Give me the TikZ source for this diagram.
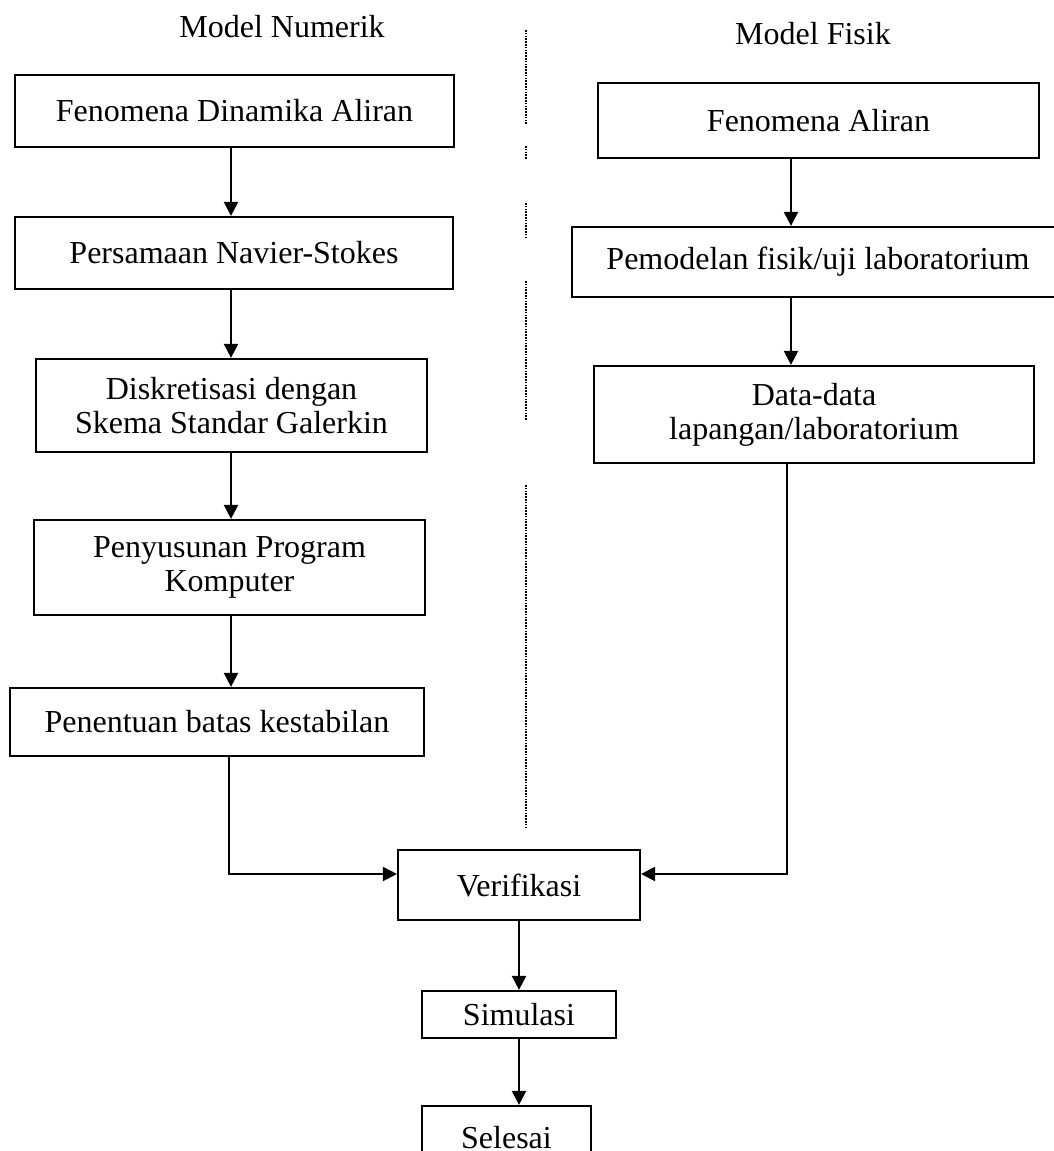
\documentclass[tikz,border=0pt]{standalone}
\usepackage{fontspec}
\setmainfont{Liberation Serif}
\usetikzlibrary{arrows.meta}
\tikzset{
  box/.style={draw, line width=1.1pt, inner sep=2pt, align=center,
    font=\fontsize{16pt}{17pt}\selectfont},
  ttl/.style={anchor=base, inner sep=0pt, font=\fontsize{16pt}{17pt}\selectfont},
  arr/.style={line width=1.1pt, -{Triangle[length=7pt,width=7pt]}},
  sep/.style={line width=0.8pt, dash pattern=on 0.8pt off 0.6pt},
}
\begin{document}
\begin{tikzpicture}[x=0.5pt, y=-0.5pt]
\useasboundingbox (0,0) rectangle (1054,1151);
\clip (0,0) rectangle (1054,1151);

% titles
\node[ttl] (tn) at (282,38) {Model Numerik};
\node[ttl] (tf) at (813,44) {Model Fisik};

% separator (broken dotted line)
\coordinate (s1a) at (526,30);  \coordinate (s1b) at (526,125);
\coordinate (s2a) at (526,146); \coordinate (s2b) at (526,159);
\coordinate (s3a) at (526,203); \coordinate (s3b) at (526,237);
\coordinate (s4a) at (526,281); \coordinate (s4b) at (526,420);
\coordinate (s5a) at (526,485); \coordinate (s5b) at (526,828);
\draw[sep] (s1a) -- (s1b);
\draw[sep] (s2a) -- (s2b);
\draw[sep] (s3a) -- (s3b);
\draw[sep] (s4a) -- (s4b);
\draw[sep] (s5a) -- (s5b);

% left column
\node[box, minimum width=219.5pt, minimum height=36pt] (fda) at (234.5,111) {Fenomena Dinamika Aliran};
\node[box, minimum width=219pt, minimum height=36pt] (pns) at (234,253) {Persamaan Navier-Stokes};
\node[box, minimum width=195.5pt, minimum height=46.5pt] (dsk) at (231.5,405.5) {Diskretisasi dengan\\Skema Standar Galerkin};
\node[box, minimum width=195.5pt, minimum height=47.5pt] (ppk) at (229.5,567.5) {Penyusunan Program\\Komputer};
\node[box, minimum width=207pt, minimum height=34pt] (pbk) at (217,722) {Penentuan batas kestabilan};

% right column
\node[box, minimum width=220.5pt, minimum height=37.5pt] (fa) at (818.5,120.5) {Fenomena Aliran};
\node[box, minimum width=246pt, minimum height=35pt] (pf) at (818,262) {Pemodelan fisik/uji laboratorium};
\node[box, minimum width=220pt, minimum height=48.5pt] (dd) at (814,414.5) {Data-data\\lapangan/laboratorium};

% bottom
\node[box, minimum width=121pt, minimum height=35pt] (ver) at (519,885) {Verifikasi};
\node[box, minimum width=97pt, minimum height=23.5pt] (sim) at (519,1014.5) {Simulasi};
\node[box, minimum width=84.5pt, minimum height=32pt] (sel) at (506.5,1138) {Selesai};

% column coordinates
\coordinate (lc) at (231,0);
\coordinate (ld) at (229,0);
\coordinate (rc) at (791,0);
\coordinate (rd) at (787,0);
\coordinate (vin) at (0,874);
\coordinate (bc) at (519,0);

% connectors
\draw[arr] (fda.south -| lc) -- (pns.north -| lc);
\draw[arr] (pns.south -| lc) -- (dsk.north -| lc);
\draw[arr] (dsk.south -| lc) -- (ppk.north -| lc);
\draw[arr] (ppk.south -| lc) -- (pbk.north -| lc);
\draw[arr] (pbk.south -| ld) |- (ver.west |- vin);

\draw[arr] (fa.south -| rc) -- (pf.north -| rc);
\draw[arr] (pf.south -| rc) -- (dd.north -| rc);
\draw[arr] (dd.south -| rd) |- (ver.east |- vin);

\draw[arr] (ver.south -| bc) -- (sim.north -| bc);
\draw[arr] (sim.south -| bc) -- (sel.north -| bc);
\end{tikzpicture}
\end{document}
